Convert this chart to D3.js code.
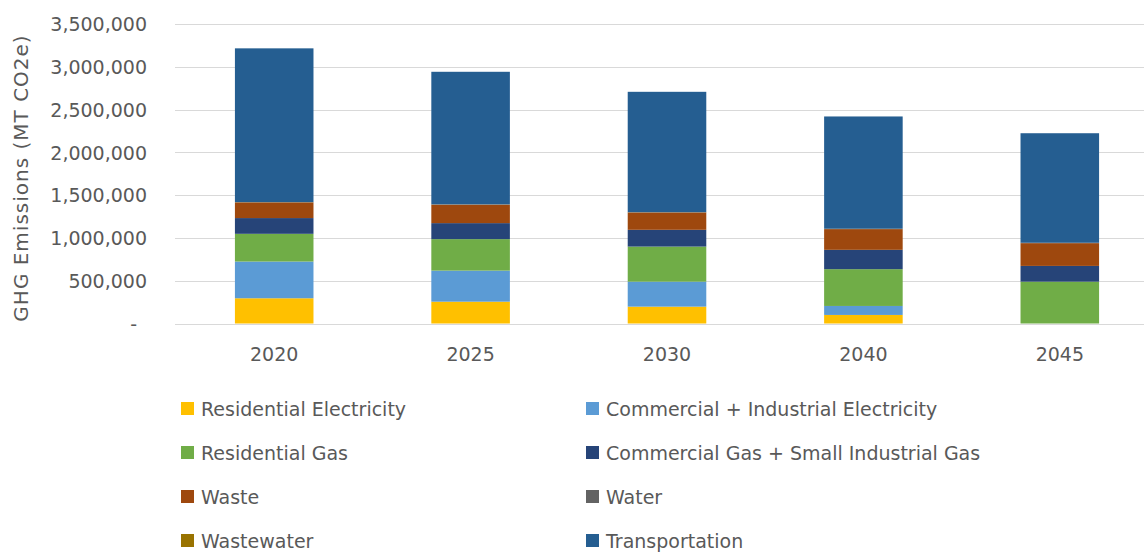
<!DOCTYPE html>
<html>
<head>
<meta charset="utf-8">
<script src="https://cdn.jsdelivr.net/npm/d3@7/dist/d3.min.js"></script>
<style>
  html, body { margin: 0; padding: 0; background: #ffffff; }
  svg { display: block; font-family: "DejaVu Sans", sans-serif; }
</style>
</head>
<body>
<svg id="chart" width="1144" height="554"></svg>
<script>
// ---- Data ----
const years = ["2020", "2025", "2030", "2040", "2045"];
const seriesNames = [
  "Residential Electricity",
  "Commercial + Industrial Electricity",
  "Residential Gas",
  "Commercial Gas + Small Industrial Gas",
  "Waste",
  "Water",
  "Wastewater",
  "Transportation"
];
const residentialElectricity = [295000, 255000, 197000, 100000, 0];
const commercialIndustrialElectricity = [429000, 363000, 292000, 105000, 0];
const residentialGas = [324000, 368000, 410000, 430000, 489000];
const commercialGas = [184000, 187000, 196000, 226000, 184000];
const waste = [183000, 215000, 202000, 242000, 266000];
const water = [3000, 3000, 3000, 3000, 3000];
const wastewater = [1500, 1500, 1500, 1500, 1500];
const transportation = [1796000, 1549000, 1406000, 1312000, 1280000];
const yTicks = [0, 500000, 1000000, 1500000, 2000000, 2500000, 3000000, 3500000];
const yTitle = "GHG Emissions (MT CO2e)";

const seriesValues = [
  residentialElectricity, commercialIndustrialElectricity, residentialGas,
  commercialGas, waste, water, wastewater, transportation
];
const colors = ["#FFC000", "#5B9BD5", "#70AD47", "#264478", "#9E480E", "#636363", "#997300", "#255E91"];

// Build table for stacking
const table = years.map((yr, i) => {
  const row = { year: yr };
  seriesNames.forEach((s, k) => { row[s] = seriesValues[k][i]; });
  return row;
});

const svg = d3.select("#chart");
const x = d3.scaleBand().domain(years).range([176, 1158]).paddingInner(0.6).paddingOuter(0.3);
const y = d3.scaleLinear().domain([0, 3500000]).range([323.5, 24]);

const textColor = "#595959";

// Gridlines
svg.append("g").selectAll("line").data(yTicks).join("line")
  .attr("x1", 175).attr("x2", 1144)
  .attr("y1", d => Math.round(y(d)) + 0.5).attr("y2", d => Math.round(y(d)) + 0.5)
  .attr("stroke", "#D9D9D9").attr("stroke-width", 1.2);

// Y axis labels
const yAxis = d3.axisLeft(y).tickValues(yTicks).tickSize(0)
  .tickFormat(d => d === 0 ? "-" : d3.format(",")(d));
const yg = svg.append("g").attr("transform", "translate(147,0)").call(yAxis);
yg.select(".domain").remove();
yg.selectAll("text")
  .attr("x", d => d === 0 ? -10 : 0)
  .attr("dy", "0.36em")
  .attr("fill", textColor)
  .style("font-size", "19px")
  .style("font-family", "'DejaVu Sans', sans-serif");

// Stacked bars
const stack = d3.stack().keys(seriesNames);
const stacked = stack(table);
svg.append("g").selectAll("g").data(stacked).join("g")
  .attr("fill", (d, i) => colors[i])
  .selectAll("rect").data(d => d).join("rect")
  .attr("x", d => x(d.data.year))
  .attr("width", x.bandwidth())
  .attr("y", d => y(d[1]))
  .attr("height", d => Math.max(0, y(d[0]) - y(d[1])));

// X axis labels
const xAxis = d3.axisBottom(x).tickSize(0);
const xg = svg.append("g").attr("transform", "translate(0,323.5)").call(xAxis);
xg.select(".domain").remove();
xg.selectAll("text")
  .attr("y", 37).attr("dy", 0)
  .attr("fill", textColor)
  .style("font-size", "19px")
  .style("font-family", "'DejaVu Sans', sans-serif");

// Y title
svg.append("text")
  .attr("transform", "translate(28,178) rotate(-90)")
  .attr("text-anchor", "middle")
  .attr("fill", textColor)
  .style("font-size", "20px")
  .style("letter-spacing", "1px")
  .text(yTitle);

// Legend
const legendCols = [181, 586];
const legendRows = [416, 460, 504, 548];
const lg = svg.append("g").selectAll("g").data(seriesNames).join("g")
  .attr("transform", (d, i) => `translate(${legendCols[i % 2]},${legendRows[Math.floor(i / 2)]})`);
lg.append("rect").attr("x", 0).attr("y", -14).attr("width", 13).attr("height", 13)
  .attr("fill", (d, i) => colors[i]);
lg.append("text").attr("x", 20).attr("y", 0)
  .attr("fill", textColor)
  .style("font-size", "19px")
  .text(d => d);
</script>
</body>
</html>
